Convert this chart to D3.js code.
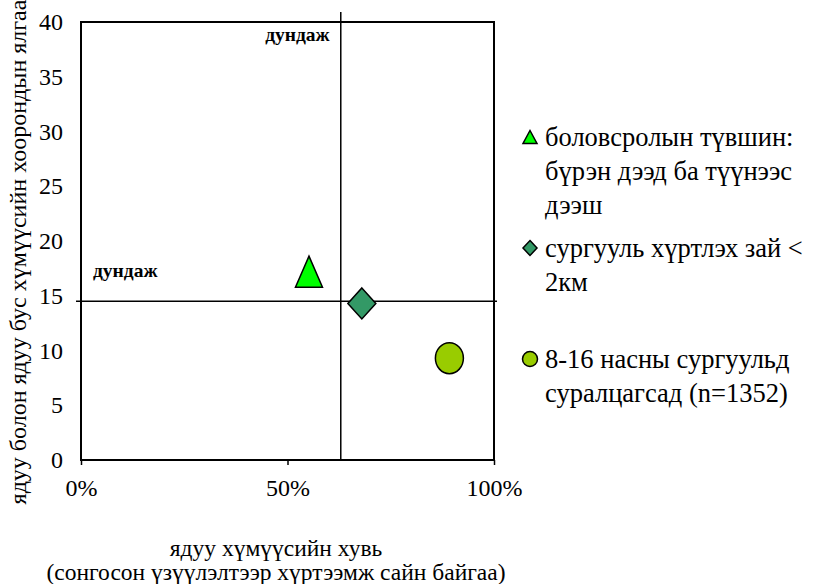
<!DOCTYPE html>
<html><head><meta charset="utf-8">
<script src="https://cdn.jsdelivr.net/npm/d3@7"></script>
<style>body{margin:0;background:#fff}svg{display:block}text{font-family:"Liberation Serif","Times New Roman",serif;fill:#000}</style>
</head><body><svg id="c" width="816" height="584"></svg>
<script>
const seriesNames = [
  ["боловсролын түвшин:", "бүрэн дээд ба түүнээс", "дээш"],
  ["сургууль хүртлэх зай <", "2км"],
  ["8-16 насны сургуульд", "суралцагсад (n=1352)"]
];
const seriesShapes = ["triangle", "diamond", "circle"];
const seriesColors = ["#00FF00", "#339966", "#99CC00"];
const xValues = [0.552, 0.680, 0.892];
const yValues = [17.2, 14.3, 9.3];
const meanX = 0.629;
const meanY = 14.5;
const xTicks = [0, 0.5, 1];
const yTicks = [0, 5, 10, 15, 20, 25, 30, 35, 40];
const xTitle = ["ядуу хүмүүсийн хувь", "(сонгосон үзүүлэлтээр хүртээмж сайн байгаа)"];
const yTitle = "ядуу болон ядуу бус хүмүүсийн хоорондын ялгаа";
const meanLabel = "дундаж";

const svg = d3.select("#c");
const L = 81, R = 494, T = 22, B = 460;
const x = d3.scaleLinear().domain([0, 1]).range([L, R]);
const y = d3.scaleLinear().domain([0, 40]).range([B, T]);

function shapePath(s, w, h) {
  if (s === "triangle") return `M0,${-h/2}L${w/2},${h/2}L${-w/2},${h/2}Z`;
  if (s === "diamond") return `M0,${-h/2}L${w/2},0L0,${h/2}L${-w/2},0Z`;
  return null;
}

// plot border
svg.append("rect").attr("x", L).attr("y", T).attr("width", R - L).attr("height", B - T)
  .attr("fill", "none").attr("stroke", "#000").attr("stroke-width", 2);

// x axis ticks
const xAxis = d3.axisBottom(x).tickValues(xTicks).tickFormat(d3.format(".0%")).tickSize(5).tickPadding(14);
const gx = svg.append("g").attr("transform", `translate(0,${B})`).call(xAxis);
gx.select(".domain").remove();
gx.selectAll(".tick line").attr("stroke", "#000").attr("stroke-width", 1.5);
gx.selectAll("text").attr("font-size", 24);

// y axis labels
const yAxis = d3.axisLeft(y).tickValues(yTicks).tickSize(0).tickPadding(18);
const gy = svg.append("g").attr("transform", `translate(${L},0)`).call(yAxis);
gy.select(".domain").remove();
gy.selectAll("text").attr("font-size", 24);

// mean lines
svg.append("line").attr("x1", x(meanX)).attr("x2", x(meanX)).attr("y1", 12).attr("y2", B)
  .attr("stroke", "#000").attr("stroke-width", 1.5);
svg.append("line").attr("x1", 76).attr("x2", 497).attr("y1", y(meanY)).attr("y2", y(meanY))
  .attr("stroke", "#000").attr("stroke-width", 1.5);

svg.append("text").attr("x", x(meanX) - 11).attr("y", 41).attr("text-anchor", "end")
  .attr("font-size", 19.5).attr("font-weight", "bold").text(meanLabel);
svg.append("text").attr("x", 93).attr("y", 277)
  .attr("font-size", 19.5).attr("font-weight", "bold").text(meanLabel);

// points
const sizes = [[27, 31], [28, 31], [28, 31]];
seriesShapes.forEach((s, i) => {
  const cx = x(xValues[i]), cy = y(yValues[i]);
  const [w, h] = sizes[i];
  if (s === "circle") {
    svg.append("ellipse").attr("cx", cx).attr("cy", cy).attr("rx", w/2).attr("ry", h/2)
      .attr("fill", seriesColors[i]).attr("stroke", "#000").attr("stroke-width", 1.5);
  } else {
    svg.append("path").attr("d", shapePath(s, w, h)).attr("transform", `translate(${cx},${cy})`)
      .attr("fill", seriesColors[i]).attr("stroke", "#000").attr("stroke-width", 1.5);
  }
});

// legend
const legendY = [137, 248, 359];
const lineH = 34;
seriesNames.forEach((lines, i) => {
  const ly = legendY[i];
  const mx = 530;
  if (seriesShapes[i] === "circle") {
    svg.append("circle").attr("cx", mx).attr("cy", ly).attr("r", 7.5)
      .attr("fill", seriesColors[i]).attr("stroke", "#000").attr("stroke-width", 1.5);
  } else {
    svg.append("path").attr("d", shapePath(seriesShapes[i], 14, seriesShapes[i] === "triangle" ? 13 : 15))
      .attr("transform", `translate(${mx},${ly})`)
      .attr("fill", seriesColors[i]).attr("stroke", "#000").attr("stroke-width", 1.5);
  }
  const t = svg.append("text").attr("x", 545).attr("y", ly).attr("font-size", 26.5);
  lines.forEach((ln, j) => {
    t.append("tspan").attr("x", 545).attr("y", ly + j * lineH).attr("dy", "0.33em").text(ln);
  });
});

// axis titles
const xt = svg.append("text").attr("text-anchor", "middle").attr("font-size", 23.5);
xt.append("tspan").attr("x", 276).attr("y", 548).attr("dy", "0.35em").text(xTitle[0]);
xt.append("tspan").attr("x", 276).attr("y", 572).attr("dy", "0.35em").text(xTitle[1]);

svg.append("text").attr("transform", `translate(18,252) rotate(-90)`)
  .attr("text-anchor", "middle").attr("dy", "0.35em").attr("font-size", 24).text(yTitle);
</script></body></html>
